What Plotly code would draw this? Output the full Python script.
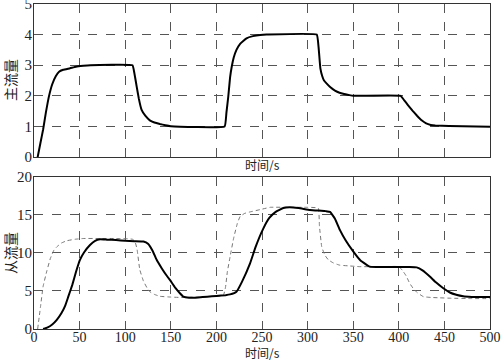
import plotly.graph_objects as go
from plotly.subplots import make_subplots

# Top panel: master flow
t_main = [4, 7, 10, 13, 16.5, 20, 24, 27.5, 32, 39.5, 46, 54, 62, 108, 110, 112.6, 115, 118, 122, 127, 132, 138, 144, 150,
          209, 211, 213, 215, 216.8, 219, 222, 226, 233, 240, 248, 255, 310, 312, 314, 316, 318, 321, 325, 330, 335, 340, 345, 350,
          402, 406, 410, 415, 420, 425, 430, 435, 440, 470, 500]
v_main = [0, 0.45, 0.9, 1.45, 2.0, 2.38, 2.65, 2.79, 2.85, 2.9, 2.95, 2.98, 3.0, 3.0, 2.75, 2.3, 1.9, 1.54, 1.35, 1.2, 1.13, 1.08, 1.04, 1.01,
          1.0, 1.45, 1.97, 2.6, 2.95, 3.25, 3.5, 3.7, 3.88, 3.95, 3.99, 4.0, 4.0, 3.6, 2.9, 2.65, 2.5, 2.4, 2.28, 2.17, 2.1, 2.06, 2.03, 2.0,
          2.0, 1.85, 1.7, 1.52, 1.35, 1.2, 1.1, 1.05, 1.03, 1.01, 0.99]

# Bottom panel: slave flow (actual, solid)
t_slave = [10, 15, 20, 25, 30, 34, 37.6, 42, 46, 50.4, 55, 61.4, 67, 72.4, 80, 90, 100, 110, 120, 125, 130, 134.5, 140, 145, 149,
           155, 160, 163.7, 170, 180, 190, 200, 210, 215, 222, 228, 236.8, 243, 251.4, 258, 265, 273.4, 280, 290, 302.6, 315, 320,
           324.6, 330, 335.5, 342, 350, 358, 364, 368, 375, 390, 405, 412, 419.6, 426, 434, 441, 448.8, 456, 463, 470.7, 480, 490, 500]
v_slave = [0, 0.2, 0.6, 1.2, 2.06, 3.0, 4.25, 5.8, 7.5, 9.1, 10.1, 11.05, 11.6, 11.8, 11.75, 11.7, 11.6, 11.55, 11.5, 11.2, 10.3, 9.1, 8.0, 7.1, 6.45,
           5.4, 4.7, 4.25, 4.1, 4.15, 4.25, 4.35, 4.45, 4.55, 4.9, 6.2, 8.6, 10.8, 13.2, 14.6, 15.4, 15.9, 16.0, 15.9, 15.66, 15.55, 15.5,
           15.4, 14.5, 13.0, 11.6, 10.2, 9.0, 8.5, 8.2, 8.15, 8.15, 8.15, 8.15, 8.1, 7.7, 6.9, 6.1, 5.35, 4.8, 4.5, 4.3, 4.22, 4.2, 4.2]

# Bottom panel: slave flow (reference, dashed)
t_ref = [4, 7, 10, 14, 18, 22, 25, 30, 35.8, 45, 54, 70, 90, 108, 110.7, 113, 116, 120, 124, 127, 132, 138, 150, 160, 180, 200, 207.6,
         210, 212, 215, 219, 223, 226, 231, 237, 248, 259, 280, 300, 311.7, 313, 315.5, 319, 322.7, 328, 335, 345, 357, 380, 400,
         404, 408, 412, 416, 420, 427, 435, 445, 456, 480, 500]
v_ref = [0, 2.8, 5.6, 7.6, 9.3, 10.4, 10.8, 11.3, 11.6, 11.8, 11.9, 11.9, 11.9, 11.8, 11.5, 10.5, 7.8, 6.3, 5.4, 4.9, 4.55, 4.3, 4.2, 4.15, 4.2, 4.3, 4.4,
         5.5, 7.5, 9.5, 12.0, 13.9, 14.8, 15.2, 15.4, 15.7, 16.0, 16.0, 16.0, 15.9, 13.5, 10.8, 9.7, 9.1, 8.7, 8.4, 8.3, 8.2, 8.2, 8.2,
         7.7, 7.0, 6.0, 5.3, 4.8, 4.25, 4.15, 4.1, 4.05, 4.0, 4.0]

x_ticks = [0, 50, 100, 150, 200, 250, 300, 350, 400, 450, 500]

FONT = "Liberation Serif"
CJK = "Noto Sans CJK SC"
TXT = "#222222"

W, H = 501, 361
ML, MR, MT, MB = 34, 11, 4, 32
PW, PH = W - ML - MR, H - MT - MB

fig = make_subplots(rows=2, cols=1, vertical_spacing=0.062, shared_xaxes=False)

fig.add_trace(go.Scatter(x=t_main, y=v_main, mode="lines", line=dict(color="black", width=2, shape="spline", smoothing=0.3),
                         showlegend=False), row=1, col=1)
fig.add_trace(go.Scatter(x=t_ref, y=v_ref, mode="lines", line=dict(color="#777777", width=1, dash="4px,3px", shape="spline", smoothing=0.3),
                         showlegend=False), row=2, col=1)
fig.add_trace(go.Scatter(x=t_slave, y=v_slave, mode="lines", line=dict(color="black", width=2, shape="spline", smoothing=0.3),
                         showlegend=False), row=2, col=1)

grid = dict(showgrid=True, gridcolor="#555555", griddash="dash", gridwidth=1,
            showline=True, linecolor="#333333", linewidth=1, mirror=True, zeroline=False,
            ticks="", automargin=False, tickfont=dict(family=FONT, size=15, color=TXT))

fig.update_xaxes(range=[0, 500], tickvals=x_ticks, ticklabeloverflow="allow", **grid)
fig.update_xaxes(showticklabels=False, row=1, col=1)
fig.update_xaxes(row=2, col=1, ticklabelstandoff=-5, tickfont=dict(family=FONT, size=14, color=TXT))
fig.update_yaxes(range=[0, 5], tickvals=[0, 1, 2, 3, 4, 5], row=1, col=1, ticklabelstandoff=-2, ticklabeloverflow="allow", **grid)
fig.update_yaxes(range=[0, 20], tickvals=[0, 5, 10, 15, 20], row=2, col=1, ticklabelstandoff=-2, ticklabeloverflow="allow", **grid)

for text, xc, yc in [("时间/s", 262, 165), ("时间/s", 262, 352)]:
    fig.add_annotation(text=text, xref="paper", yref="paper",
                       x=(xc - ML) / PW, y=1 - (yc - MT) / PH,
                       showarrow=False, xanchor="center", yanchor="middle",
                       font=dict(family=CJK, size=12, color=TXT))
for text, yc in [("主流量", 80), ("从流量", 253)]:
    fig.add_annotation(text=text, xref="paper", yref="paper",
                       x=(10 - ML) / PW, y=1 - (yc - MT) / PH,
                       showarrow=False, xanchor="center", yanchor="middle", textangle=-90,
                       font=dict(family=CJK, size=14, color=TXT))

fig.update_layout(width=W, height=H, autosize=False, margin=dict(l=ML, r=MR, t=MT, b=MB, pad=0),
                  font=dict(family=FONT),
                  plot_bgcolor="white", paper_bgcolor="white", showlegend=False)
fig.layout.yaxis.domain = [0.529, 1.0]
fig.layout.yaxis2.domain = [0.0, 0.468]

fig.write_html("out.html", config={"displayModeBar": False},
               post_script="document.body.style.margin='0';document.body.style.padding='0';")
